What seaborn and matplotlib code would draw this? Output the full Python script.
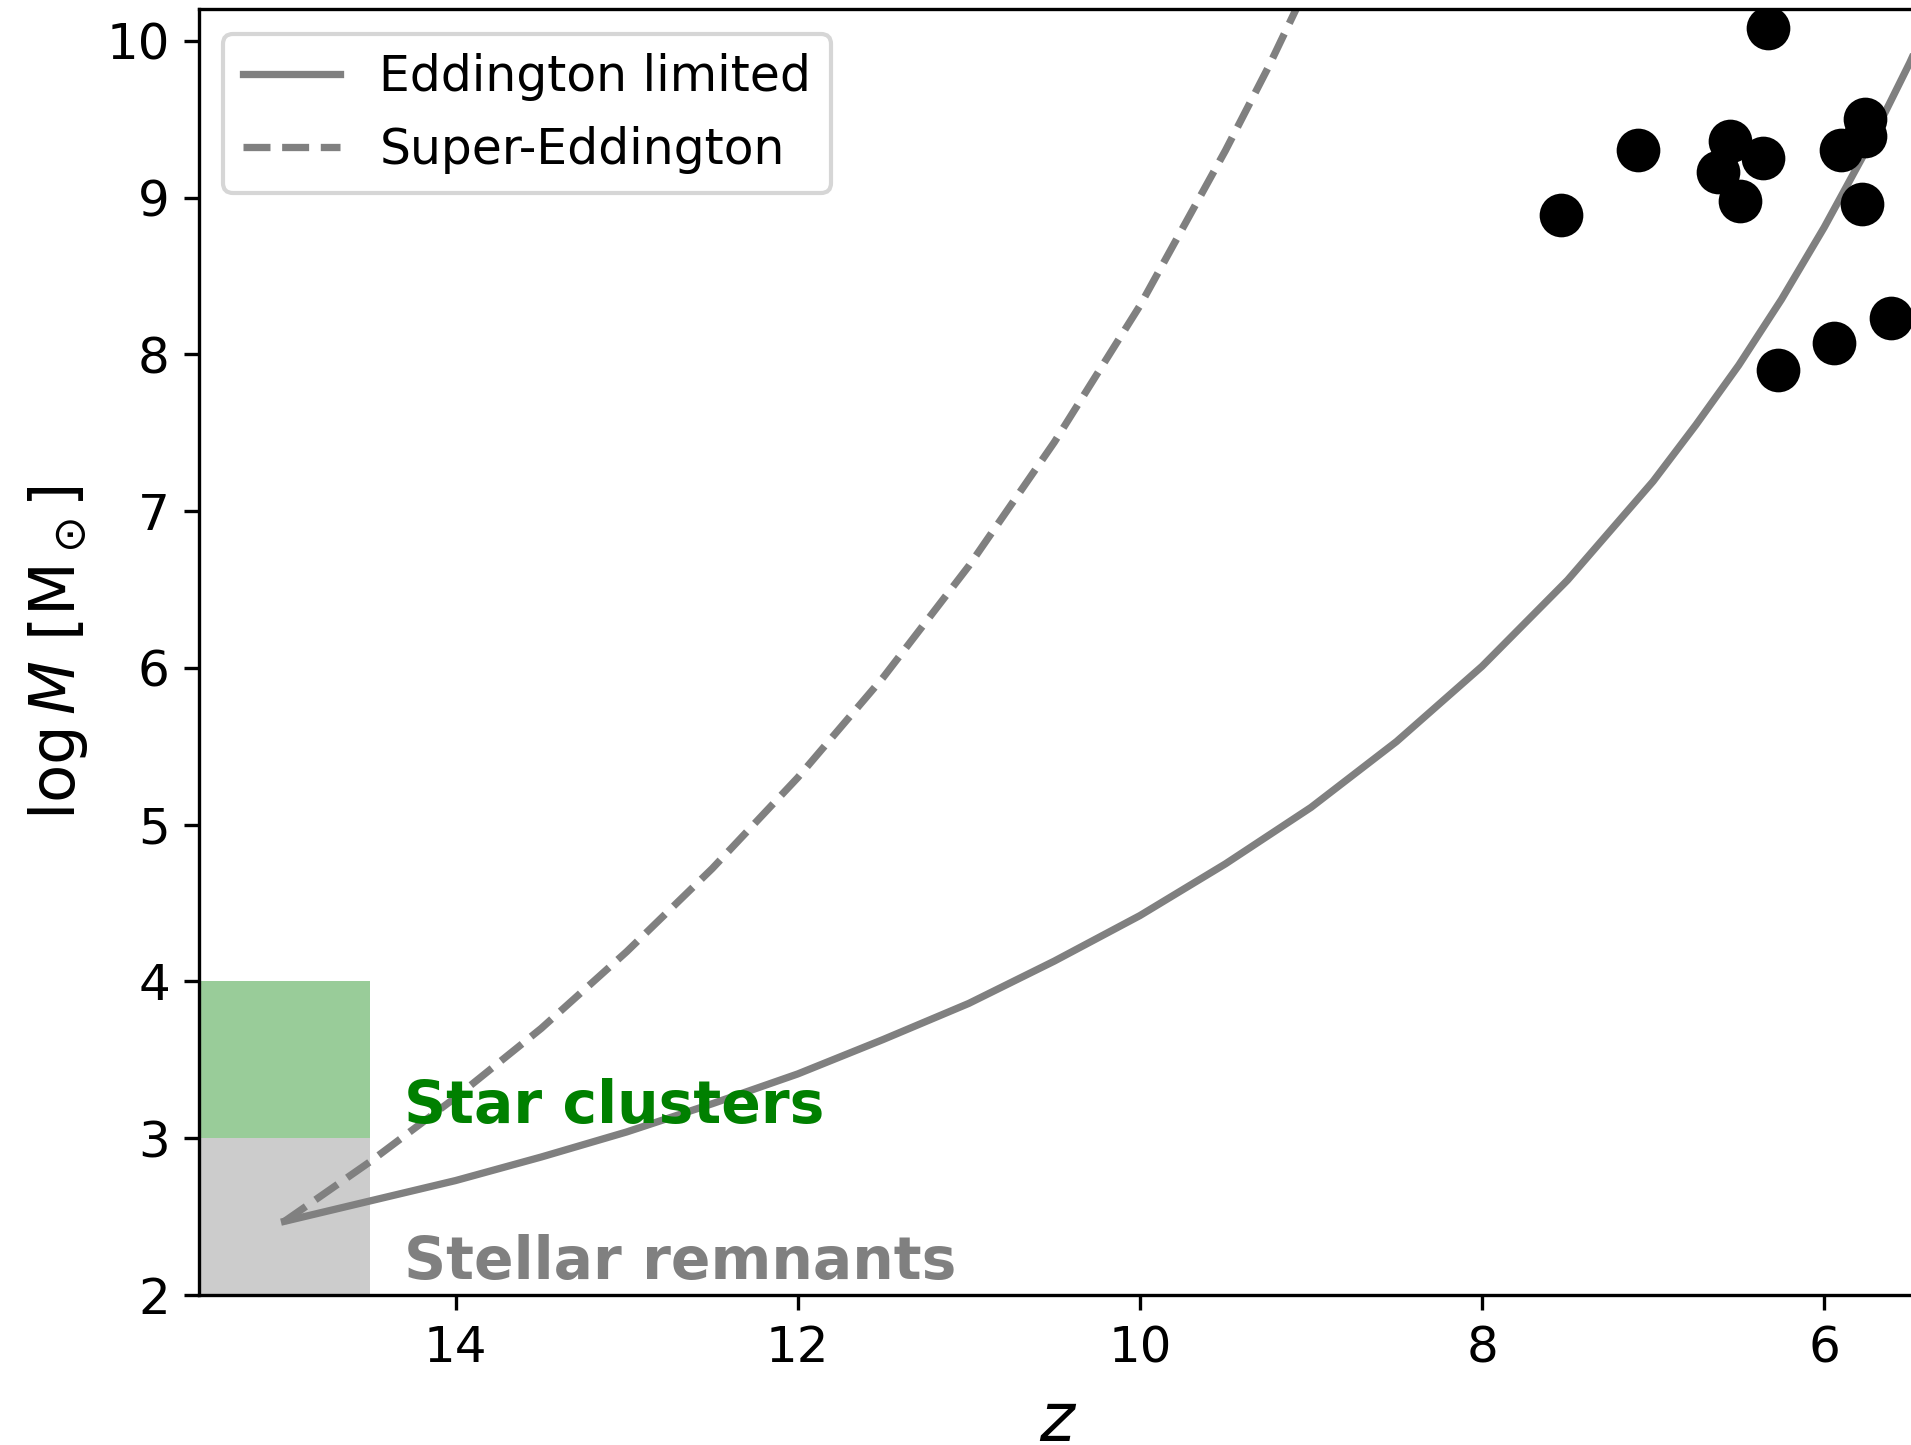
import matplotlib
matplotlib.use('Agg')
import matplotlib.pyplot as plt
import seaborn as sns

plt.rcParams['font.size'] = 12

# 曲线数据 (z, log M)
z_edd = [15.0, 14.5, 14.0, 13.5, 13.0, 12.5, 12.0, 11.5, 11.0, 10.5, 10.0, 9.5,
         9.0, 8.5, 8.0, 7.5, 7.0, 6.75, 6.5, 6.25, 6.0, 5.75, 5.5, 5.4]
m_edd = [2.47, 2.60, 2.73, 2.88, 3.04, 3.22, 3.41, 3.63, 3.86, 4.13, 4.42, 4.75,
         5.11, 5.53, 6.01, 6.56, 7.19, 7.55, 7.93, 8.35, 8.81, 9.31, 9.86, 10.10]

z_super = [15.0, 14.5, 14.0, 13.5, 13.0, 12.5, 12.0, 11.5, 11.0, 10.5, 10.0,
           9.5, 9.25, 9.0]
m_super = [2.47, 2.85, 3.26, 3.70, 4.19, 4.72, 5.30, 5.94, 6.65, 7.44, 8.31,
           9.30, 9.83, 10.40]

# 高红移类星体
z_qso = [6.33, 7.54, 7.09, 6.55, 6.36, 6.62, 6.49, 5.90, 5.76, 5.76, 5.78, 6.27, 5.94, 5.61]
m_qso = [10.08, 8.89, 9.30, 9.36, 9.25, 9.16, 8.98, 9.30, 9.50, 9.39, 8.96, 7.90, 8.07, 8.23]

# 种子区域
seed_z = [15.5, 14.5]
remnant_range = [2, 3]
cluster_range = [3, 4]


def main():
    fig = plt.figure(figsize=(6.37, 4.8167), dpi=300)
    ax = fig.add_axes([0.10413, 0.1038, 0.8997, 0.8897])

    ax.fill_between(seed_z, remnant_range[0], remnant_range[1], color='gray', alpha=0.4, linewidth=0)
    ax.fill_between(seed_z, cluster_range[0], cluster_range[1], color='green', alpha=0.4, linewidth=0)

    sns.lineplot(x=z_edd, y=m_edd, color='gray', lw=1.75, label='Eddington limited', ax=ax)
    sns.lineplot(x=z_super, y=m_super, color='gray', lw=1.75, linestyle='--',
                 label='Super-Eddington', ax=ax)
    sns.scatterplot(x=z_qso, y=m_qso, color='black', s=110, linewidth=0, ax=ax, zorder=3)

    ax.text(14.3, 3.1, 'Star clusters', color='green', fontweight='bold', fontsize=14)
    ax.text(14.3, 2.1, 'Stellar remnants', color='gray', fontweight='bold', fontsize=14)

    ax.set_xlim(15.5, 5.45)
    ax.set_ylim(2, 10.2)
    ax.set_xlabel('$z$', fontsize=16)
    ax.set_ylabel(r'$\log M\ [\mathrm{M}_\odot]$', fontsize=15)
    ax.legend(loc='upper left', fontsize=11.7)

    fig.savefig('out.png', dpi=300)


if __name__ == '__main__':
    main()
